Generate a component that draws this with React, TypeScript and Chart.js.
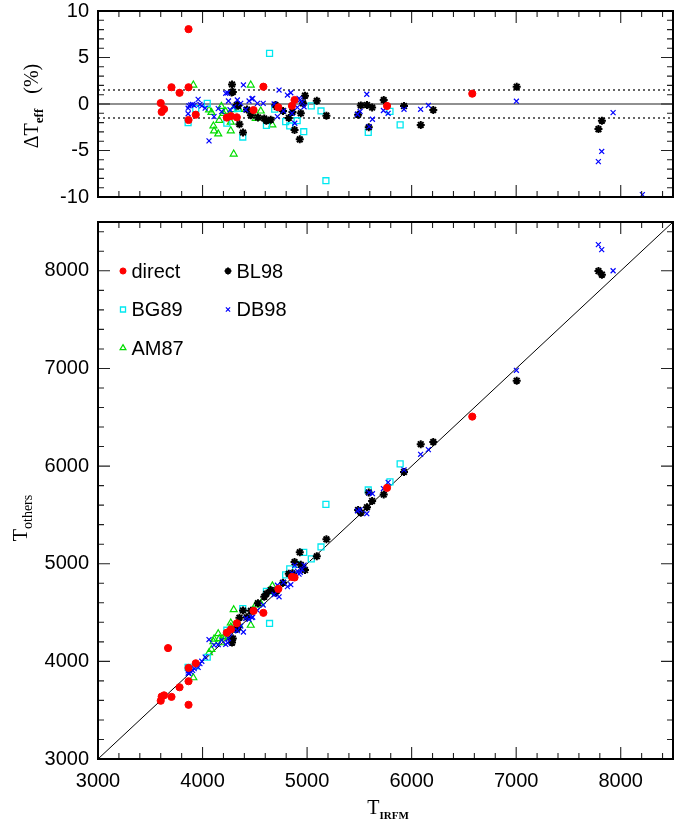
import React, { useEffect, useRef } from 'react';
import { Chart, registerables } from 'chart.js';
import { drawPoint } from 'chart.js/helpers';

Chart.register(...registerables);

// ---------- axes ----------
const X_MIN = 3000;
const X_MAX = 8500;
const D_MIN = -10;
const D_MAX = 10;
const T_MIN = 3000;
const T_MAX = 8500;
const xTickLabels = [3000, 4000, 5000, 6000, 7000, 8000];
const dTickLabels = [-10, -5, 0, 5, 10];
const tTickLabels = [3000, 4000, 5000, 6000, 7000, 8000];
const dBand = 1.5; // dotted band, %

// ---------- data: [T_IRFM (K), ΔT_eff (%)] ----------
const direct: [number, number][] = [
  [3600, 0.1], [3609, -0.85], [3632, -0.55], [3670, -12.7], [3703, 1.8], [3780, 1.2],
  [3866, 8.05], [3866, 1.8], [3866, -1.72], [3935, -1.15], [4232, -1.46], [4272, -1.3],
  [4328, -1.43], [4488, -0.65], [4582, 1.86], [4725, -0.36], [4855, -0.2], [4880, 0.43],
  [5765, -0.21], [6580, 1.11],
];

const bl98: [number, number][] = [
  [4282, 2.1], [4278, 1.25], [4290, 1.3], [4328, -0.1], [4340, -0.2], [4353, -2.17],
  [4387, -3.07], [4425, -0.6], [4463, -1.22], [4530, -1.45], [4590, -1.55], [4610, -1.8],
  [4652, -1.7], [4697, -0.1], [4710, -0.3], [4770, -0.75], [4825, -1.5], [4860, -0.85],
  [4880, -2.8], [4930, -3.8], [4940, -1.0], [4962, 0.07], [4980, 0.9], [5093, 0.34],
  [5185, -1.25], [5488, -1.15], [5514, -0.15], [5573, -0.1], [5590, -2.5], [5622, -0.38],
  [5733, 0.43], [5927, -0.22], [6087, -2.25], [6207, -0.64], [7005, 1.86], [7787, -2.7],
  [7820, -1.8],
];

const bg89: [number, number][] = [
  [3862, -2.0], [3935, -0.5], [4045, 0.07], [4232, -2.05], [4333, -0.46], [4385, -3.55],
  [4611, -2.3], [4641, 5.45], [4690, -0.55], [4795, -1.9], [4834, -2.36], [4905, -1.8],
  [4968, -2.98], [5040, -0.2], [5133, -0.75], [5180, -8.25], [5585, -3.05], [5793, -0.8],
  [5890, -2.25],
];

const db98: [number, number][] = [
  [3862, -0.45], [3862, -1.05], [3870, -0.2], [3888, -0.1], [3905, -0.05], [3920, -0.15],
  [3958, 0.5], [3975, -0.05], [3993, -0.2], [4025, -0.45], [4062, -3.97], [4110, -1.36],
  [4150, -0.5], [4183, -0.82], [4222, 1.15], [4240, 1.2], [4248, 0.32], [4263, -0.62],
  [4300, -0.3], [4333, 0.43], [4365, 0.07], [4391, 2.05], [4413, -0.62], [4445, 0.32],
  [4472, 0.55], [4480, 0.6], [4525, 0.07], [4580, 0.07], [4685, 0.0], [4716, -1.36],
  [4732, 1.5], [4774, -0.75], [4812, 0.96], [4844, 1.21], [4856, -1.0], [4882, -2.07],
  [4907, -0.36], [4923, 0.6], [4935, 0.45], [4952, 0.2], [4971, -0.3], [5482, -1.1],
  [5507, -0.8], [5571, 1.05], [5593, -2.43], [5625, -1.64], [5730, -0.7], [5775, -1.0],
  [5927, -0.57], [6086, -0.57], [6160, -0.14], [7002, 0.3], [7786, -6.2], [7818, -5.1],
  [7927, -0.93], [8207, -9.75],
];

const am87: [number, number][] = [
  [3912, 2.04], [4062, -0.64], [4085, -0.9], [4104, -2.36], [4110, -2.89], [4150, -3.21],
  [4160, -1.75], [4180, -0.25], [4200, -1.0], [4222, -0.8], [4270, -2.88], [4270, -1.95],
  [4292, -0.6], [4298, -5.38], [4349, -0.57], [4461, 2.04], [4509, -1.54], [4557, -0.75],
  [4668, -2.25],
];

// ---------- styles ----------
type Def = { label: string; pts: [number, number][]; style: string; color: string; fill: boolean; r: number; lw: number; order: number };
const seriesDefs: Def[] = [
  { label: 'direct', pts: direct, style: 'circle', color: '#ff0000', fill: true, r: 3.6, lw: 1, order: 0 },
  { label: 'BL98', pts: bl98, style: 'star', color: '#000000', fill: false, r: 4, lw: 2, order: 2 },
  { label: 'BG89', pts: bg89, style: 'rect', color: '#00e8f0', fill: false, r: 4.2, lw: 1.3, order: 3 },
  { label: 'DB98', pts: db98, style: 'crossRot', color: '#0000ff', fill: false, r: 3.5, lw: 1.2, order: 1 },
  { label: 'AM87', pts: am87, style: 'triangle', color: '#00dd00', fill: false, r: 4, lw: 1.2, order: 4 },
];
// legend grid: [label, column, row]
const legendLayout: [string, number, number][] = [
  ['direct', 0, 0], ['BL98', 1, 0], ['BG89', 0, 1], ['DB98', 1, 1], ['AM87', 0, 2],
];

const SANS = '"Liberation Sans", Arial, sans-serif';
const SERIF = '"Liberation Serif", "Times New Roman", serif';

const W = 686;
const TOP_H = 205;
const BOT_H = 617;
const PLOT_LEFT = 98;
const PAD_RIGHT = 13;

function pointDataset(d: Def, toY: (t: number, dp: number) => number) {
  return {
    label: d.label,
    data: d.pts.map(([t, dp]) => ({ x: t, y: toY(t, dp) })),
    pointStyle: d.style,
    pointRadius: d.r,
    pointBorderColor: d.color,
    pointBackgroundColor: d.fill ? d.color : 'rgba(0,0,0,0)',
    pointBorderWidth: d.lw,
    showLine: false,
    order: d.order,
  };
}

function lineDataset(pts: { x: number; y: number }[], color: string, width: number, dash: number[] = []) {
  return {
    type: 'line' as const,
    data: pts,
    borderColor: color,
    borderWidth: width,
    borderDash: dash,
    pointRadius: 0,
    showLine: true,
    fill: false,
    order: 20,
  };
}

function innerTicks(xMinor: number, xMajor: number, yMinor: number, yMajor: number) {
  return {
    id: 'innerTicks',
    afterDatasetsDraw(chart: any) {
      const { ctx, chartArea: a, scales } = chart;
      const xs = scales.x;
      const ys = scales.y;
      ctx.save();
      ctx.strokeStyle = '#222';
      ctx.lineWidth = 1.1;
      const isMajor = (v: number, m: number) => Math.abs(v / m - Math.round(v / m)) < 1e-6;
      const start = (min: number, st: number) => Math.ceil(min / st - 1e-9) * st;
      for (let v = start(xs.min, xMinor); v <= xs.max + 1e-9; v += xMinor) {
        if (v <= xs.min || v >= xs.max) continue;
        const len = isMajor(v, xMajor) ? 12 : 6;
        const px = xs.getPixelForValue(v);
        ctx.beginPath();
        ctx.moveTo(px, a.bottom); ctx.lineTo(px, a.bottom - len);
        ctx.moveTo(px, a.top); ctx.lineTo(px, a.top + len);
        ctx.stroke();
      }
      for (let v = start(ys.min, yMinor); v <= ys.max + 1e-9; v += yMinor) {
        if (v <= ys.min || v >= ys.max) continue;
        const len = isMajor(v, yMajor) ? 12 : 6;
        const py = ys.getPixelForValue(v);
        ctx.beginPath();
        ctx.moveTo(a.left, py); ctx.lineTo(a.left + len, py);
        ctx.moveTo(a.right, py); ctx.lineTo(a.right - len, py);
        ctx.stroke();
      }
      ctx.strokeStyle = '#000';
      ctx.lineWidth = 2;
      ctx.strokeRect(a.left, a.top, a.right - a.left, a.bottom - a.top);
      ctx.restore();
    },
  };
}

type Part = { text: string; font: string; dy: number };
function drawParts(ctx: CanvasRenderingContext2D, parts: Part[], cx: number, cy: number, rotate: boolean) {
  ctx.save();
  ctx.translate(cx, cy);
  if (rotate) ctx.rotate(-Math.PI / 2);
  let total = 0;
  for (const p of parts) { ctx.font = p.font; total += ctx.measureText(p.text).width; }
  let x = -total / 2;
  ctx.fillStyle = '#000';
  ctx.textBaseline = 'alphabetic';
  ctx.textAlign = 'left';
  for (const p of parts) {
    ctx.font = p.font;
    ctx.fillText(p.text, x, p.dy);
    x += ctx.measureText(p.text).width;
  }
  ctx.restore();
}

function fixedTicks(values: number[]) {
  return (s: any) => { s.ticks = values.map((v) => ({ value: v })); };
}

function fixSize(prop: 'width' | 'height', size: number) {
  return (s: any) => {
    s[prop] = size;
    s.paddingTop = 0; s.paddingBottom = 0; s.paddingLeft = 0; s.paddingRight = 0;
  };
}

const plain = (v: any) => String(v);

export default function App() {
  const topRef = useRef<HTMLCanvasElement>(null);
  const botRef = useRef<HTMLCanvasElement>(null);

  useEffect(() => {
    const tickFont = { family: SANS, size: 20 };

    const topTitle = {
      id: 'topTitle',
      afterDraw(chart: any) {
        drawParts(chart.ctx, [
          { text: '\u0394T', font: `20px ${SERIF}`, dy: 0 },
          { text: 'eff', font: `bold 13px ${SERIF}`, dy: 5 },
          { text: '   (%)', font: `20px ${SERIF}`, dy: 0 },
        ], 38, 106, true);
      },
    };

    const top = new Chart(topRef.current!, {
      type: 'scatter',
      data: {
        datasets: [
          lineDataset([{ x: X_MIN, y: 0 }, { x: X_MAX, y: 0 }], '#222', 1.2),
          lineDataset([{ x: X_MIN, y: dBand }, { x: X_MAX, y: dBand }], '#666', 2, [2, 3]),
          lineDataset([{ x: X_MIN, y: -dBand }, { x: X_MAX, y: -dBand }], '#666', 2, [2, 3]),
          ...seriesDefs.map((d) => pointDataset(d, (_t, dp) => dp)),
        ] as any,
      },
      options: {
        animation: false,
        responsive: false,
        maintainAspectRatio: false,
        layout: { padding: { left: 0, right: PAD_RIGHT, top: 11, bottom: 0 } },
        plugins: { legend: { display: false }, tooltip: { enabled: false } },
        scales: {
          x: {
            type: 'linear', min: X_MIN, max: X_MAX,
            grid: { display: false, drawTicks: false }, border: { display: false },
            ticks: { display: false },
            afterBuildTicks: fixedTicks(xTickLabels),
            afterFit: fixSize('height', 8),
          },
          y: {
            type: 'linear', min: D_MIN, max: D_MAX,
            grid: { display: false, drawTicks: false }, border: { display: false },
            ticks: { color: '#000', font: tickFont, padding: 9, autoSkip: false, callback: plain },
            afterBuildTicks: fixedTicks(dTickLabels),
            afterFit: fixSize('width', PLOT_LEFT),
          },
        },
      } as any,
      plugins: [innerTicks(200, 1000, 1, 5), topTitle],
    });

    const botDecor = {
      id: 'botDecor',
      afterDraw(chart: any) {
        const { ctx, chartArea: a } = chart;
        drawParts(ctx, [
          { text: 'T', font: `20px ${SERIF}`, dy: 0 },
          { text: 'others', font: `14px ${SERIF}`, dy: 5 },
        ], 27, 518 - TOP_H, true);
        drawParts(ctx, [
          { text: 'T', font: `20px ${SERIF}`, dy: 0 },
          { text: 'IRFM', font: `bold 11px ${SERIF}`, dy: 5 },
        ], 388, 814 - TOP_H, false);
        // legend
        ctx.save();
        for (const [label, col, row] of legendLayout) {
          const d = seriesDefs.find((s) => s.label === label)!;
          const mx = a.left + 25 + col * 105;
          const my = a.top + 49 + row * 38.5;
          ctx.strokeStyle = d.color;
          ctx.fillStyle = d.fill ? d.color : 'rgba(0,0,0,0)';
          ctx.lineWidth = d.lw;
          drawPoint(ctx, { pointStyle: d.style as any, radius: d.r * 0.85, rotation: 0, borderWidth: d.lw } as any, mx, my);
          ctx.fillStyle = '#000';
          ctx.font = `20px ${SANS}`;
          ctx.textBaseline = 'middle';
          ctx.textAlign = 'left';
          ctx.fillText(label, mx + 8.5, my + 1);
        }
        ctx.restore();
      },
    };

    const bot = new Chart(botRef.current!, {
      type: 'scatter',
      data: {
        datasets: [
          lineDataset([{ x: T_MIN, y: T_MIN }, { x: T_MAX, y: T_MAX }], '#000', 1),
          ...seriesDefs.map((d) => pointDataset(d, (t, dp) => t * (1 - dp / 100))),
        ] as any,
      },
      options: {
        animation: false,
        responsive: false,
        maintainAspectRatio: false,
        layout: { padding: { left: 0, right: PAD_RIGHT, top: 17, bottom: 0 } },
        plugins: { legend: { display: false }, tooltip: { enabled: false } },
        scales: {
          x: {
            type: 'linear', min: X_MIN, max: X_MAX,
            grid: { display: false, drawTicks: false }, border: { display: false },
            ticks: { color: '#000', font: tickFont, padding: 10, autoSkip: false, maxRotation: 0, callback: plain },
            afterBuildTicks: fixedTicks(xTickLabels),
            afterFit: fixSize('height', 63),
          },
          y: {
            type: 'linear', min: T_MIN, max: T_MAX,
            grid: { display: false, drawTicks: false }, border: { display: false },
            ticks: { color: '#000', font: tickFont, padding: 9, autoSkip: false, callback: plain },
            afterBuildTicks: fixedTicks(tTickLabels),
            afterFit: fixSize('width', PLOT_LEFT),
          },
        },
      } as any,
      plugins: [innerTicks(200, 1000, 200, 1000), botDecor],
    });

    return () => { top.destroy(); bot.destroy(); };
  }, []);

  return (
    <div style={{ position: 'absolute', left: 0, top: 0, width: W, height: TOP_H + BOT_H, background: '#fff' }}>
      <canvas ref={topRef} width={W} height={TOP_H} style={{ position: 'absolute', left: 0, top: 0 }} />
      <canvas ref={botRef} width={W} height={BOT_H} style={{ position: 'absolute', left: 0, top: TOP_H }} />
    </div>
  );
}
